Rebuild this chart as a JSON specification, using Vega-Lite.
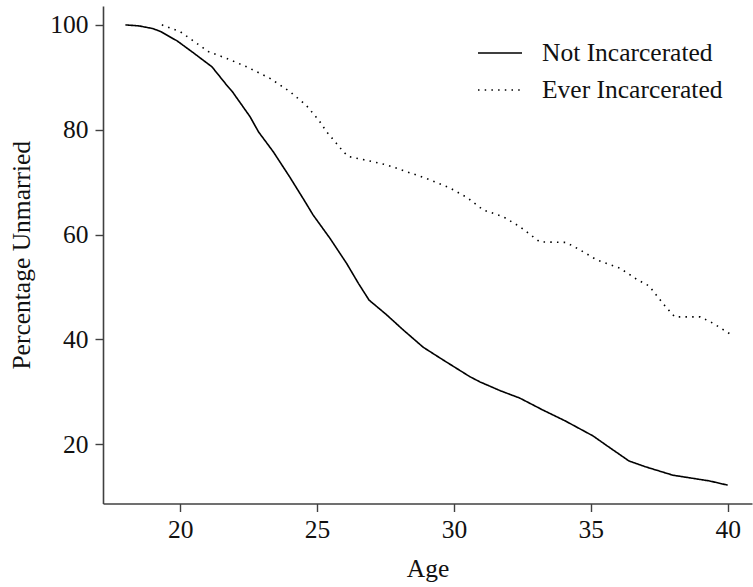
{
  "$schema": "https://vega.github.io/schema/vega-lite/v6.json",
  "autosize": {"type": "none"},
  "padding": {"left": 103, "top": 6, "right": 1, "bottom": 83.5},
  "width": 649,
  "height": 497.5,
  "background": "white",
  "config": {
    "view": {"stroke": null},
    "font": "Liberation Serif",
    "axis": {
      "grid": false,
      "domainColor": "#404040",
      "domainWidth": 1.6,
      "tickColor": "#404040",
      "tickWidth": 1.4,
      "tickSize": 8,
      "labelFont": "Liberation Serif",
      "labelFontSize": 25.5,
      "labelColor": "#111111",
      "titleFont": "Liberation Serif",
      "titleFontSize": 25.5,
      "titleFontWeight": "normal",
      "titleColor": "#111111"
    }
  },
  "data": {
    "values": [
      {"age": 18.0, "pct": 100.0, "group": "Not Incarcerated"},
      {"age": 18.5, "pct": 99.8, "group": "Not Incarcerated"},
      {"age": 19.0, "pct": 99.3, "group": "Not Incarcerated"},
      {"age": 19.3, "pct": 98.7, "group": "Not Incarcerated"},
      {"age": 19.9, "pct": 96.9, "group": "Not Incarcerated"},
      {"age": 20.5, "pct": 94.6, "group": "Not Incarcerated"},
      {"age": 21.16, "pct": 92.0, "group": "Not Incarcerated"},
      {"age": 21.7, "pct": 88.5, "group": "Not Incarcerated"},
      {"age": 21.9, "pct": 87.3, "group": "Not Incarcerated"},
      {"age": 22.55, "pct": 82.5, "group": "Not Incarcerated"},
      {"age": 22.86, "pct": 79.6, "group": "Not Incarcerated"},
      {"age": 23.4, "pct": 75.8, "group": "Not Incarcerated"},
      {"age": 24.0, "pct": 71.0, "group": "Not Incarcerated"},
      {"age": 24.5, "pct": 66.8, "group": "Not Incarcerated"},
      {"age": 24.86, "pct": 63.7, "group": "Not Incarcerated"},
      {"age": 25.47, "pct": 59.3, "group": "Not Incarcerated"},
      {"age": 26.08, "pct": 54.5, "group": "Not Incarcerated"},
      {"age": 26.51, "pct": 50.7, "group": "Not Incarcerated"},
      {"age": 26.9, "pct": 47.5, "group": "Not Incarcerated"},
      {"age": 27.54, "pct": 44.7, "group": "Not Incarcerated"},
      {"age": 28.15, "pct": 41.8, "group": "Not Incarcerated"},
      {"age": 28.88, "pct": 38.5, "group": "Not Incarcerated"},
      {"age": 29.6, "pct": 36.1, "group": "Not Incarcerated"},
      {"age": 30.58, "pct": 32.9, "group": "Not Incarcerated"},
      {"age": 30.95, "pct": 31.9, "group": "Not Incarcerated"},
      {"age": 31.7, "pct": 30.2, "group": "Not Incarcerated"},
      {"age": 32.41, "pct": 28.8, "group": "Not Incarcerated"},
      {"age": 33.26, "pct": 26.5, "group": "Not Incarcerated"},
      {"age": 34.05, "pct": 24.5, "group": "Not Incarcerated"},
      {"age": 35.08, "pct": 21.6, "group": "Not Incarcerated"},
      {"age": 35.57, "pct": 19.8, "group": "Not Incarcerated"},
      {"age": 36.4, "pct": 16.8, "group": "Not Incarcerated"},
      {"age": 37.0, "pct": 15.7, "group": "Not Incarcerated"},
      {"age": 38.0, "pct": 14.1, "group": "Not Incarcerated"},
      {"age": 39.34, "pct": 13.0, "group": "Not Incarcerated"},
      {"age": 40.0, "pct": 12.2, "group": "Not Incarcerated"},

      {"age": 19.33, "pct": 100.0, "group": "Ever Incarcerated"},
      {"age": 20.0, "pct": 98.7, "group": "Ever Incarcerated"},
      {"age": 20.6, "pct": 96.5, "group": "Ever Incarcerated"},
      {"age": 21.03, "pct": 94.9, "group": "Ever Incarcerated"},
      {"age": 21.7, "pct": 93.6, "group": "Ever Incarcerated"},
      {"age": 22.43, "pct": 92.0, "group": "Ever Incarcerated"},
      {"age": 23.28, "pct": 89.8, "group": "Ever Incarcerated"},
      {"age": 24.0, "pct": 87.3, "group": "Ever Incarcerated"},
      {"age": 24.6, "pct": 84.7, "group": "Ever Incarcerated"},
      {"age": 25.08, "pct": 81.7, "group": "Ever Incarcerated"},
      {"age": 25.35, "pct": 79.6, "group": "Ever Incarcerated"},
      {"age": 25.66, "pct": 77.7, "group": "Ever Incarcerated"},
      {"age": 25.96, "pct": 75.8, "group": "Ever Incarcerated"},
      {"age": 26.14, "pct": 74.9, "group": "Ever Incarcerated"},
      {"age": 26.87, "pct": 74.1, "group": "Ever Incarcerated"},
      {"age": 27.54, "pct": 73.3, "group": "Ever Incarcerated"},
      {"age": 28.27, "pct": 72.0, "group": "Ever Incarcerated"},
      {"age": 29.0, "pct": 70.7, "group": "Ever Incarcerated"},
      {"age": 29.85, "pct": 68.9, "group": "Ever Incarcerated"},
      {"age": 30.5, "pct": 67.0, "group": "Ever Incarcerated"},
      {"age": 31.07, "pct": 64.7, "group": "Ever Incarcerated"},
      {"age": 31.8, "pct": 63.4, "group": "Ever Incarcerated"},
      {"age": 32.41, "pct": 61.5, "group": "Ever Incarcerated"},
      {"age": 33.14, "pct": 58.6, "group": "Ever Incarcerated"},
      {"age": 34.1, "pct": 58.5, "group": "Ever Incarcerated"},
      {"age": 34.6, "pct": 57.1, "group": "Ever Incarcerated"},
      {"age": 35.21, "pct": 55.2, "group": "Ever Incarcerated"},
      {"age": 36.06, "pct": 53.6, "group": "Ever Incarcerated"},
      {"age": 36.67, "pct": 51.5, "group": "Ever Incarcerated"},
      {"age": 37.13, "pct": 50.2, "group": "Ever Incarcerated"},
      {"age": 37.43, "pct": 48.2, "group": "Ever Incarcerated"},
      {"age": 37.74, "pct": 46.2, "group": "Ever Incarcerated"},
      {"age": 38.07, "pct": 44.3, "group": "Ever Incarcerated"},
      {"age": 39.0, "pct": 44.3, "group": "Ever Incarcerated"},
      {"age": 39.46, "pct": 43.1, "group": "Ever Incarcerated"},
      {"age": 40.07, "pct": 41.1, "group": "Ever Incarcerated"}
    ]
  },
  "mark": {"type": "line", "color": "black", "strokeWidth": 1.6, "strokeCap": "butt"},
  "encoding": {
    "x": {
      "field": "age",
      "type": "quantitative",
      "title": "Age",
      "scale": {"domain": [17.18, 40.89], "nice": false, "zero": false},
      "axis": {"values": [20, 25, 30, 35, 40], "labelPadding": 6, "titlePadding": 13}
    },
    "y": {
      "field": "pct",
      "type": "quantitative",
      "title": "Percentage Unmarried",
      "scale": {"domain": [8.7, 103.6], "nice": false, "zero": false},
      "axis": {"values": [20, 40, 60, 80, 100], "labelPadding": 7, "titlePadding": 15}
    },
    "strokeDash": {
      "field": "group",
      "type": "nominal",
      "scale": {
        "domain": ["Not Incarcerated", "Ever Incarcerated"],
        "range": [[1, 0], [1.5, 5.2]]
      },
      "legend": {
        "title": null,
        "orient": "none",
        "legendX": 374,
        "legendY": 24,
        "padding": 0,
        "symbolType": "stroke",
        "symbolSize": 1936,
        "symbolStrokeWidth": 1.6,
        "symbolStrokeColor": "black",
        "labelFont": "Liberation Serif",
        "labelFontSize": 25.5,
        "labelColor": "#111111",
        "labelLimit": 0,
        "labelOffset": 19,
        "rowPadding": -15
      }
    }
  }
}
